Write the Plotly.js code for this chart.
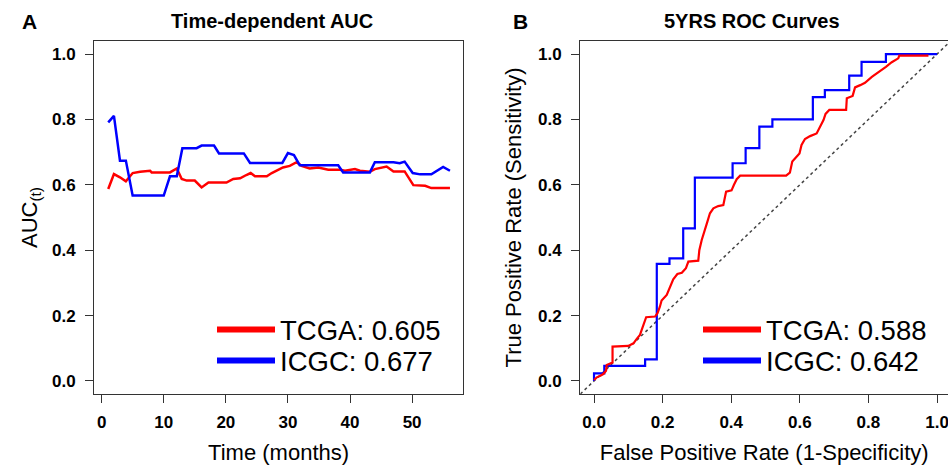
<!DOCTYPE html>
<html>
<head>
<meta charset="utf-8">
<script src="https://cdn.plot.ly/plotly-3.0.1.min.js"></script>
<style>html,body{margin:0;padding:0;background:#fff;}#chart{width:948px;height:469px;}</style>
</head>
<body>
<div id="chart"></div>
<script>
// ---- Panel A: time-dependent AUC ----
const tcgaTime = [1.06, 1.98, 2.95, 3.9, 5.0, 6.2, 7.8, 8.05, 11.0, 12.1, 12.9, 13.7, 15.0, 16.1, 17.2, 20.1, 21.2, 22.3, 23.3, 24.0, 24.7, 26.6, 27.4, 28.7, 29.2, 30.3, 31.4, 32.2, 33.5, 34.9, 36.5, 38.4, 39.2, 40.8, 41.6, 43.2, 44.0, 45.9, 47.0, 48.8, 50.2, 52.1, 53.1, 56.1];
const tcgaAUC  = [0.587, 0.633, 0.623, 0.611, 0.636, 0.64, 0.643, 0.638, 0.638, 0.65, 0.618, 0.613, 0.613, 0.592, 0.607, 0.607, 0.618, 0.62, 0.63, 0.636, 0.626, 0.626, 0.636, 0.648, 0.653, 0.658, 0.669, 0.658, 0.65, 0.653, 0.646, 0.646, 0.643, 0.648, 0.643, 0.64, 0.648, 0.656, 0.641, 0.641, 0.599, 0.597, 0.59, 0.59];
const icgcTime = [1.06, 1.98, 2.95, 3.9, 4.99, 10.0, 11.0, 12.1, 13.0, 15.3, 16.1, 18.1, 18.9, 22.9, 23.9, 29.1, 30.0, 30.97, 31.9, 38.1, 38.9, 43.2, 44.0, 47.0, 48.0, 48.8, 50.1, 51.3, 53.1, 55.0, 56.1];
const icgcAUC  = [0.791, 0.811, 0.674, 0.674, 0.567, 0.567, 0.626, 0.626, 0.712, 0.712, 0.72, 0.72, 0.696, 0.696, 0.667, 0.667, 0.697, 0.691, 0.66, 0.66, 0.638, 0.638, 0.669, 0.669, 0.666, 0.671, 0.636, 0.632, 0.632, 0.655, 0.643];
const timeTicks = [0, 10, 20, 30, 40, 50];
const legendA = ['TCGA: 0.605', 'ICGC: 0.677'];

// ---- Panel B: 5-year ROC curves ----
const tcgaFPR = [0, 0.008, 0.017, 0.027, 0.035, 0.037, 0.054, 0.054, 0.1, 0.115, 0.124, 0.134, 0.139, 0.144, 0.152, 0.178, 0.185, 0.192, 0.197, 0.212, 0.222, 0.231, 0.243, 0.256, 0.268, 0.275, 0.304, 0.307, 0.314, 0.324, 0.329, 0.338, 0.348, 0.362, 0.377, 0.385, 0.401, 0.408, 0.416, 0.426, 0.56, 0.571, 0.578, 0.599, 0.605, 0.615, 0.63, 0.649, 0.659, 0.669, 0.675, 0.686, 0.735, 0.737, 0.754, 0.761, 0.776, 0.79, 0.81, 0.832, 0.851, 0.868, 0.887, 0.89, 0.975];
const tcgaTPR = [0.003, 0.011, 0.015, 0.021, 0.031, 0.049, 0.056, 0.105, 0.107, 0.115, 0.128, 0.141, 0.156, 0.171, 0.195, 0.197, 0.207, 0.227, 0.246, 0.263, 0.288, 0.311, 0.327, 0.331, 0.345, 0.365, 0.368, 0.40, 0.431, 0.462, 0.482, 0.513, 0.528, 0.535, 0.538, 0.579, 0.583, 0.6, 0.617, 0.628, 0.628, 0.637, 0.671, 0.696, 0.722, 0.74, 0.749, 0.757, 0.776, 0.798, 0.817, 0.829, 0.829, 0.865, 0.872, 0.898, 0.905, 0.912, 0.93, 0.946, 0.961, 0.975, 0.987, 0.995, 0.995];
const icgcFPR = [0, 0.03, 0.149, 0.183, 0.22, 0.26, 0.294, 0.404, 0.442, 0.482, 0.52, 0.638, 0.673, 0.744, 0.78, 0.851, 1.0];
const icgcTPR = [0, 0.023, 0.046, 0.066, 0.358, 0.375, 0.467, 0.622, 0.666, 0.712, 0.778, 0.80, 0.868, 0.89, 0.934, 0.976, 1.0];
const chanceLine = [-0.04, 1.04];
const rateTicks = [0, 0.2, 0.4, 0.6, 0.8, 1.0];
const legendB = ['TCGA: 0.588', 'ICGC: 0.642'];

const RED = '#ff0000', BLUE = '#0000ff';
const FONT = 'Liberation Sans, Arial, sans-serif';

function legendTrace(name, color, legendId, xa, ya) {
  return {x: [null], y: [null], xaxis: xa, yaxis: ya, mode: 'lines', line: {color: color, width: 6}, name: name, legend: legendId, showlegend: true};
}

const traces = [
  {x: tcgaTime, y: tcgaAUC, xaxis: 'x', yaxis: 'y', mode: 'lines', line: {color: RED, width: 2.5}, showlegend: false, hoverinfo: 'skip'},
  {x: icgcTime, y: icgcAUC, xaxis: 'x', yaxis: 'y', mode: 'lines', line: {color: BLUE, width: 2.5}, showlegend: false, hoverinfo: 'skip'},
  legendTrace(legendA[0], RED, 'legend', 'x', 'y'),
  legendTrace(legendA[1], BLUE, 'legend2', 'x', 'y'),

  {x: chanceLine, y: chanceLine, xaxis: 'x2', yaxis: 'y2', mode: 'lines', line: {color: '#444', width: 1.5, dash: 'dot'}, showlegend: false, hoverinfo: 'skip'},
  {x: icgcFPR, y: icgcTPR, xaxis: 'x2', yaxis: 'y2', mode: 'lines', line: {color: BLUE, width: 2.2, shape: 'vh'}, showlegend: false, hoverinfo: 'skip'},
  {x: tcgaFPR, y: tcgaTPR, xaxis: 'x2', yaxis: 'y2', mode: 'lines', line: {color: RED, width: 2.2}, showlegend: false, hoverinfo: 'skip'},
  legendTrace(legendB[0], RED, 'legend3', 'x2', 'y2'),
  legendTrace(legendB[1], BLUE, 'legend4', 'x2', 'y2')
];

const axisCommon = {
  ticks: 'outside', ticklen: 8, tickwidth: 1, tickcolor: '#333',
  showline: true, mirror: true, linecolor: '#333', linewidth: 1.2,
  showgrid: false, zeroline: false, ticklabeloverflow: 'allow',
  tickfont: {family: FONT, size: 17, weight: 'bold', color: '#000'}
};
const yDomain = [1 - 394/469, 1 - 41/469];

function legendBox(xPx, topPx) {
  return {
    x: xPx/948, y: 1 - topPx/469, xanchor: 'left', yanchor: 'top',
    bgcolor: 'rgba(0,0,0,0)', borderwidth: 0, itemwidth: 58,
    font: {family: FONT, size: 27.5, color: '#000'}
  };
}

const layout = {
  width: 948, height: 469,
  margin: {l: 0, r: 0, t: 0, b: 0},
  paper_bgcolor: '#fff', plot_bgcolor: '#fff',
  font: {family: FONT, color: '#000'},
  xaxis: Object.assign({}, axisCommon, {
    domain: [94.2/948, 463/948], range: [-1.2, 58.2], tickvals: timeTicks, anchor: 'y',
    ticklabelstandoff: 4,
    title: {text: 'Time (months)', font: {family: FONT, size: 22}, standoff: 14}
  }),
  yaxis: Object.assign({}, axisCommon, {
    domain: yDomain, range: [-0.04, 1.04], tickvals: rateTicks, ticktext: rateTicks.map(v => v.toFixed(1)), anchor: 'x',
    ticklabelstandoff: 6,
    title: {text: 'AUC<sub>(t)</sub>', font: {family: FONT, size: 22}, standoff: 8}
  }),
  xaxis2: Object.assign({}, axisCommon, {
    domain: [580.3/948, 1], range: [-0.04, 1.032], tickvals: rateTicks, ticktext: rateTicks.map(v => v.toFixed(1)), anchor: 'y2',
    ticklabelstandoff: 4,
    title: {text: 'False Positive Rate (1-Specificity)', font: {family: FONT, size: 22}, standoff: 14}
  }),
  yaxis2: Object.assign({}, axisCommon, {
    domain: yDomain, range: [-0.04, 1.04], tickvals: rateTicks, ticktext: rateTicks.map(v => v.toFixed(1)), anchor: 'x2',
    ticklabelstandoff: 6,
    title: {text: 'True Positive Rate (Sensitivity)', font: {family: FONT, size: 22}, standoff: 10}
  }),
  legend: legendBox(212, 305),
  legend2: legendBox(212, 336),
  legend3: legendBox(698, 305),
  legend4: legendBox(698, 336),
  annotations: [
    {text: '<b>A</b>', x: 29/948, y: 1 - 21/469, xref: 'paper', yref: 'paper', showarrow: false, xanchor: 'center', yanchor: 'middle', font: {family: FONT, size: 21}},
    {text: '<b>B</b>', x: 520/948, y: 1 - 21/469, xref: 'paper', yref: 'paper', showarrow: false, xanchor: 'center', yanchor: 'middle', font: {family: FONT, size: 21}},
    {text: '<b>Time-dependent AUC</b>', x: 272/948, y: 1 - 21/469, xref: 'paper', yref: 'paper', showarrow: false, xanchor: 'center', yanchor: 'middle', font: {family: FONT, size: 20}},
    {text: '<b>5YRS ROC Curves</b>', x: 752/948, y: 1 - 21/469, xref: 'paper', yref: 'paper', showarrow: false, xanchor: 'center', yanchor: 'middle', font: {family: FONT, size: 20}}
  ]
};

Plotly.newPlot('chart', traces, layout, {displayModeBar: false, staticPlot: true});
</script>
</body>
</html>
